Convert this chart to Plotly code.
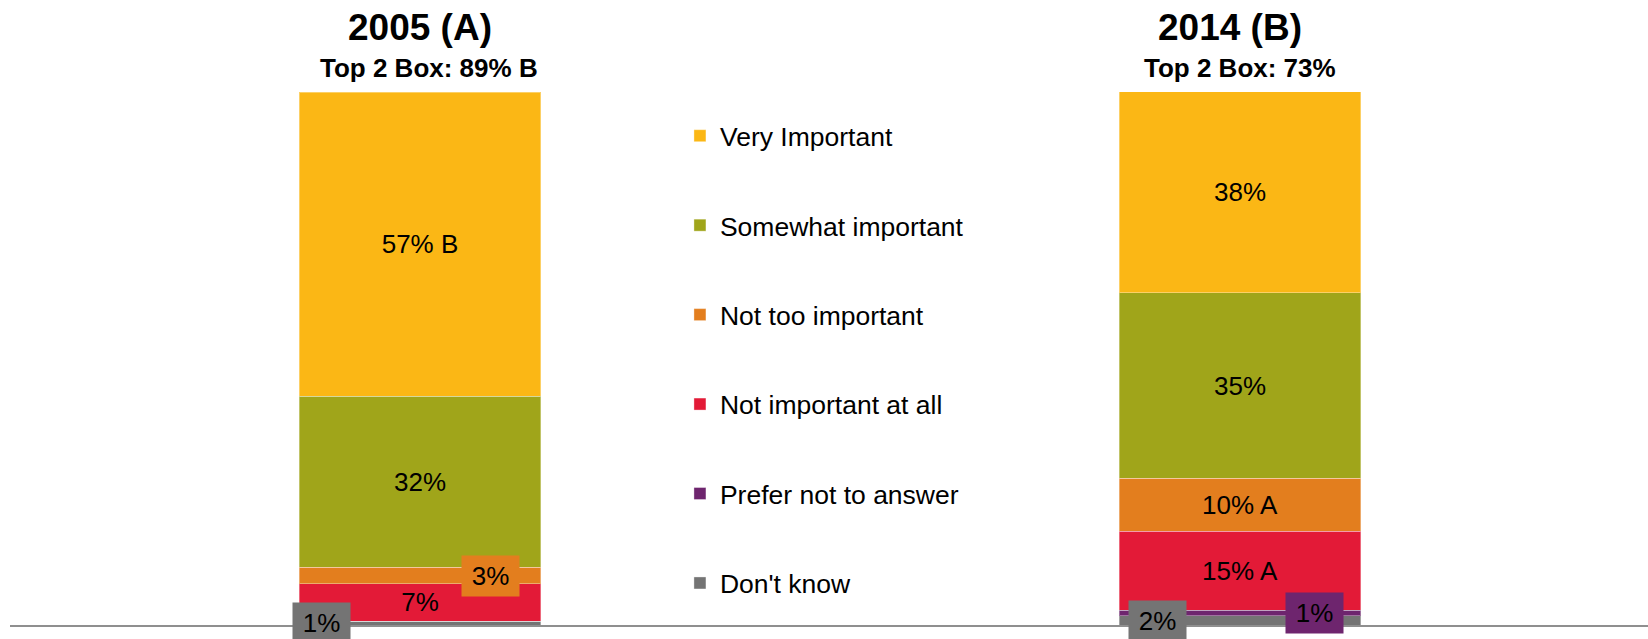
import plotly.graph_objects as go

years = ['2005 (A)', '2014 (B)']
subtitles = ['Top 2 Box: 89% B', 'Top 2 Box: 73%']

# bottom to top
series = ["Don't know", 'Prefer not to answer', 'Not important at all',
          'Not too important', 'Somewhat important', 'Very Important']
dont_know = [0.75, 1.69]
prefer_not = [0.0, 1.07]
not_at_all = [7.0, 14.84]
not_too = [3.04, 9.96]
somewhat = [32.09, 34.75]
very = [57.11, 37.7]

labels_dont_know = ['1%', '2%']
labels_prefer_not = ['', '1%']
labels_not_at_all = ['7%', '15% A']
labels_not_too = ['3%', '10% A']
labels_somewhat = ['32%', '35%']
labels_very = ['57% B', '38%']

colors = ['#747474', '#6e256e', '#e31a37', '#e37e1e', '#a0a51a', '#fbb715']
values = [dont_know, prefer_not, not_at_all, not_too, somewhat, very]
labels = [labels_dont_know, labels_prefer_not, labels_not_at_all,
          labels_not_too, labels_somewhat, labels_very]

# labels that sit in a coloured box beside the thin segments: (series idx, year idx, x shift)
boxed = [(3, 0, 71), (0, 0, -98), (0, 1, -82), (1, 1, 75)]
boxed_keys = {(s, y) for s, y, _ in boxed}

FONT = 'Liberation Sans, Arial, sans-serif'

fig = go.Figure()
for i, name in enumerate(series):
    txt = ['' if (i, j) in boxed_keys else labels[i][j] for j in range(len(years))]
    fig.add_trace(go.Bar(
        x=years, y=values[i], name=name, text=txt,
        textposition='inside', insidetextanchor='middle', textangle=0,
        textfont=dict(size=26, color='black', family=FONT),
        marker=dict(color=colors[i], line=dict(color='rgba(255,255,255,0.35)', width=1)),
        width=0.295, legendgroup=name, legendrank=len(series) - i,
        hoverinfo='skip'
    ))

annotations = []
for s, j, shift in boxed:
    base = sum(values[k][j] for k in range(s))
    annotations.append(dict(
        x=years[j], y=base + values[s][j] / 2, xref='x', yref='y',
        text=labels[s][j], showarrow=False, xshift=shift,
        bgcolor=colors[s], width=55, height=38,
        font=dict(size=26, color='black', family=FONT)
    ))

title_shift = [0, -10]
sub_shift = [9, 0]
for j, yr in enumerate(years):
    annotations.append(dict(
        x=yr, y=1, xref='x', yref='paper', yanchor='middle', yshift=65,
        xshift=title_shift[j], text='<b>' + yr + '</b>', showarrow=False,
        font=dict(size=37, color='black', family=FONT)
    ))
    annotations.append(dict(
        x=yr, y=1, xref='x', yref='paper', yanchor='middle', yshift=24,
        xshift=sub_shift[j], text='<b>' + subtitles[j] + '</b>', showarrow=False,
        font=dict(size=26, color='black', family=FONT)
    ))

fig.update_layout(
    barmode='stack',
    width=1648, height=639,
    margin=dict(l=10, r=0, t=92, b=14),
    paper_bgcolor='white', plot_bgcolor='white',
    font=dict(family=FONT, color='black'),
    uniformtext=dict(minsize=26, mode='show'),
    xaxis=dict(type='category', range=[-0.5, 1.4976], showticklabels=False,
               showgrid=False, zeroline=False, showline=True,
               linecolor='#8f8f8f', linewidth=2, ticks=''),
    yaxis=dict(range=[0, 100], visible=False),
    legend=dict(x=0.409, y=0.9625, xanchor='left', yanchor='top',
                traceorder='grouped', tracegroupgap=52,
                font=dict(size=26.5, color='black', family=FONT),
                bgcolor='rgba(0,0,0,0)'),
    annotations=annotations,
    showlegend=True
)

# drop the browser's default body margin so the figure fills the window
fig.write_html('out.html', config={'displayModeBar': False},
               post_script="document.body.style.margin='0';")
